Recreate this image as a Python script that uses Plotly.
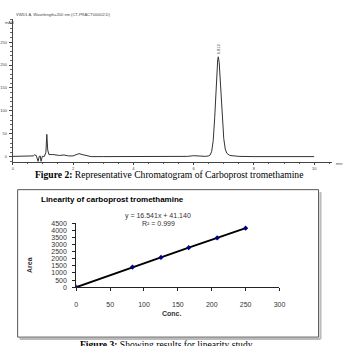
import plotly.graph_objects as go

W, H = 349, 346

# ---- Chromatogram data ----
chrom_time = [0.0, 0.6, 0.68, 0.72, 0.78, 0.84, 0.88, 0.91, 0.94, 0.98, 1.05, 1.10, 1.13, 1.16, 1.20,
              1.33, 1.45, 1.55, 1.70, 1.85, 2.0, 2.1, 2.2, 2.3, 2.45, 2.6, 3.0, 4.0, 5.5, 5.8, 6.0,
              6.2, 6.4, 6.5, 6.55, 6.6, 6.65, 6.7, 6.75, 6.8, 6.82, 6.85, 6.9, 6.95, 7.0, 7.05,
              7.1, 7.2, 7.35, 7.5, 8.0, 9.0, 10.0]
chrom_mau = [1, 1, 2, 4, 3, -10, 1, 2, -10, 1, 1, 10, 49, 15, 5,
             5, 3, 3, 4, 2, 2, 4, 7, 5, 2, 0.5, 0.5, 0.5, 0.5, 1, 2.5,
             1.5, 1, 2, 4, 12, 35, 85, 160, 212, 218, 205, 150, 85, 40, 17,
             8, 3, 1.5, 1, 0.5, 0.5, 0.5]
chrom_yticks = [0, 50, 100, 150, 200, 250]
chrom_xticks = [0, 2, 4, 6, 8, 10]
peak_label = "6.812"
peak_time = 6.81
peak_height = 218

# ---- Linearity data ----
conc = [0, 83, 125, 166, 208, 250]
area = [0, 1420, 2100, 2790, 3480, 4170]
lin_yticks = [0, 500, 1000, 1500, 2000, 2500, 3000, 3500, 4000, 4500]
lin_xticks = [0, 50, 100, 150, 200, 250, 300]


def px(x):
    return x / W


def py(y):
    return 1 - y / H


fig = go.Figure()

fig.add_trace(go.Scatter(x=chrom_time, y=chrom_mau, mode="lines",
                         line=dict(color="#333333", width=1), xaxis="x", yaxis="y",
                         showlegend=False, hoverinfo="skip"))

fig.add_trace(go.Scatter(x=conc, y=area, mode="lines+markers",
                         line=dict(color="black", width=2),
                         marker=dict(color="#000080", symbol="diamond", size=4),
                         xaxis="x2", yaxis="y2", showlegend=False, hoverinfo="skip"))

small = dict(family="Liberation Sans, Arial", size=4, color="#444444")
lab = dict(family="Liberation Sans, Arial", size=7, color="#333333")

fig.update_layout(
    width=W, height=H, margin=dict(l=0, r=0, t=0, b=0),
    paper_bgcolor="white", plot_bgcolor="white",
    xaxis=dict(domain=[px(11), px(338)], range=[0, 10.6], anchor="y",
               showline=True, linecolor="#444", linewidth=1, showgrid=False, zeroline=False,
               tickvals=chrom_xticks, ticks="outside", ticklen=2, tickcolor="#444",
               minor=dict(dtick=0.5, ticks="outside", ticklen=1.5, tickcolor="#666"),
               tickfont=small, ticklabelstandoff=0),
    yaxis=dict(domain=[py(161), py(15)], range=[-10.7, 301], anchor="x",
               showline=True, linecolor="#444", linewidth=1, showgrid=False, zeroline=False,
               tickvals=chrom_yticks, ticks="outside", ticklen=3, tickcolor="#444",
               minor=dict(dtick=10, ticks="outside", ticklen=1.5, tickcolor="#666"),
               tickfont=small, ticklabelstandoff=1),
    xaxis2=dict(domain=[px(76), px(284)], range=[0, 300], anchor="y2",
                showline=True, linecolor="#222", linewidth=1, showgrid=False, zeroline=False,
                tickvals=lin_xticks, ticks="outside", ticklen=3, tickcolor="#222",
                tickfont=lab, ticklabelstandoff=7),
    yaxis2=dict(domain=[py(289), py(224)], range=[0, 4500], anchor="x2",
                showline=True, linecolor="#222", linewidth=1, showgrid=False, zeroline=False,
                tickvals=lin_yticks, ticks="outside", ticklen=3, tickcolor="#222",
                tickfont=lab, ticklabelstandoff=4),
)

ann = []
# chromatogram texts
ann.append(dict(x=px(12), y=py(11), xref="paper", yref="paper", xanchor="left", yanchor="middle",
                text="VWD1 A, Wavelength=200 nm (CT-PRACT\\00002.D)", showarrow=False,
                font=dict(family="Liberation Sans, Arial", size=4, color="#444")))
ann.append(dict(x=px(1), y=py(19), xref="paper", yref="paper", xanchor="left", yanchor="middle",
                text="mAU", showarrow=False, font=small))
ann.append(dict(x=px(340), y=py(163), xref="paper", yref="paper", xanchor="left", yanchor="middle",
                text="min", showarrow=False, font=small))
ann.append(dict(x=peak_time, y=peak_height, xref="x", yref="y", xanchor="center", yanchor="bottom",
                text=peak_label, textangle=-90, showarrow=False,
                font=dict(family="Liberation Sans, Arial", size=4, color="#444")))
# caption 1
ann.append(dict(x=px(171), y=py(174), xref="paper", yref="paper", xanchor="center", yanchor="middle",
                text="<b>Figure 2:</b> Representative Chromatogram of Carboprost tromethamine",
                showarrow=False, font=dict(family="Liberation Serif, Times New Roman", size=9.6, color="black")))
# linearity texts
ann.append(dict(x=px(38), y=py(200), xref="paper", yref="paper", xanchor="left", yanchor="middle",
                text="<b>Linearity of carboprost tromethamine</b>", showarrow=False,
                font=dict(family="Liberation Sans, Arial", size=8, color="black")))
ann.append(dict(x=px(160), y=py(216), xref="paper", yref="paper", xanchor="center", yanchor="middle",
                text="y = 16.541x + 41.140", showarrow=False, font=lab))
ann.append(dict(x=px(160), y=py(224), xref="paper", yref="paper", xanchor="center", yanchor="middle",
                text="R² = 0.999", showarrow=False, font=lab))
ann.append(dict(x=px(28), y=py(266), xref="paper", yref="paper", xanchor="center", yanchor="middle",
                text="<b>Area</b>", textangle=-90, showarrow=False, font=lab))
ann.append(dict(x=px(174), y=py(316), xref="paper", yref="paper", xanchor="center", yanchor="middle",
                text="<b>Conc.</b>", showarrow=False, font=lab))
# caption 2 (partly below the picture edge, as in the reference)
ann.append(dict(x=px(168), y=py(348), xref="paper", yref="paper", xanchor="center", yanchor="middle",
                text="<b>Figure 3:</b> Showing results for linearity study", showarrow=False,
                font=dict(family="Liberation Serif, Times New Roman", size=9.6, color="black")))
fig.update_layout(annotations=ann)

# box around linearity chart with shadow
fig.update_layout(shapes=[
    dict(type="line", xref="paper", yref="paper", x0=px(18), x1=px(326), y0=py(342), y1=py(342),
         line=dict(color="#bbbbbb", width=2)),
    dict(type="line", xref="paper", yref="paper", x0=px(326), x1=px(326), y0=py(192), y1=py(342),
         line=dict(color="#bbbbbb", width=2)),
    dict(type="rect", xref="paper", yref="paper", x0=px(16), x1=px(324), y0=py(340), y1=py(189.5),
         line=dict(color="#555555", width=1)),
])

fig.write_html("out.html")
